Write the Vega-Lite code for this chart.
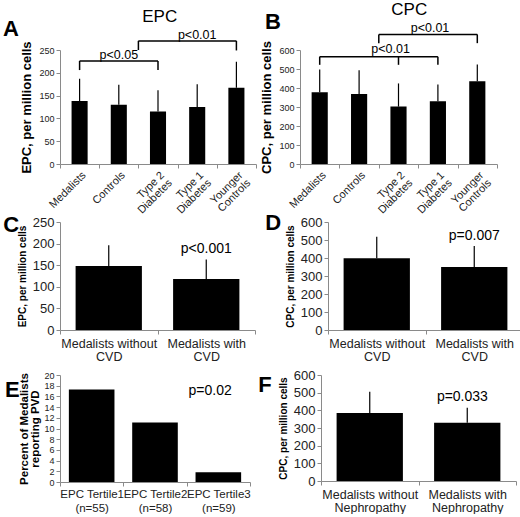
{
  "$schema": "https://vega.github.io/schema/vega-lite/v6.json",
  "padding": {"left": 2, "top": 0, "right": 0, "bottom": 0},
  "config": {
    "font": "Liberation Sans",
    "view": {"stroke": null},
    "axis": {
      "domainColor": "#8a8a8a",
      "tickColor": "#8a8a8a",
      "labelColor": "#222222",
      "titleColor": "#000000",
      "grid": false,
      "tickSize": 4
    },
    "title": {"color": "#000000"}
  },
  "datasets": {
    "epc_groups": [
      {"group": "Medalists", "mean": 138, "upper": 187},
      {"group": "Controls", "mean": 130, "upper": 174},
      {"group": "Type 2 Diabetes", "mean": 115, "upper": 162},
      {"group": "Type 1 Diabetes", "mean": 125, "upper": 175},
      {"group": "Younger Controls", "mean": 167, "upper": 224}
    ],
    "cpc_groups": [
      {"group": "Medalists", "mean": 377, "upper": 497},
      {"group": "Controls", "mean": 368, "upper": 494},
      {"group": "Type 2 Diabetes", "mean": 302, "upper": 424},
      {"group": "Type 1 Diabetes", "mean": 330, "upper": 419},
      {"group": "Younger Controls", "mean": 435, "upper": 524}
    ],
    "epc_cvd": [
      {"group": "Medalists without CVD", "mean": 148, "upper": 196},
      {"group": "Medalists with CVD", "mean": 118, "upper": 163}
    ],
    "cpc_cvd": [
      {"group": "Medalists without CVD", "mean": 398, "upper": 518},
      {"group": "Medalists with CVD", "mean": 350, "upper": 466}
    ],
    "pvd_tertiles": [
      {"group": "EPC Tertile1 (n=55)", "percent": 17.3},
      {"group": "EPC Tertile2 (n=58)", "percent": 11.1},
      {"group": "EPC Tertile3 (n=59)", "percent": 1.8}
    ],
    "cpc_nephropathy": [
      {"group": "Medalists without Nephropathy", "mean": 385, "upper": 505},
      {"group": "Medalists with Nephropathy", "mean": 330, "upper": 415}
    ],
    "brackets": [
      {"panel": "A", "start": "center", "from": "Medalists", "to": "Type 2 Diabetes", "y": 226, "y2": 226},
      {"panel": "A", "start": "center", "from": "Medalists", "to": "Medalists", "y": 206, "y2": 226},
      {"panel": "A", "start": "center", "from": "Type 2 Diabetes", "to": "Type 2 Diabetes", "y": 206, "y2": 226},
      {"panel": "A", "start": "center", "from": "Younger Controls", "to": "Younger Controls", "y": 249, "y2": 270},
      {"panel": "A", "start": "boundary", "from": "Type 2 Diabetes", "to": "Younger Controls", "y": 270, "y2": 270},
      {"panel": "A", "start": "tick", "from": "Type 2 Diabetes", "to": "Type 2 Diabetes", "y": 250, "y2": 270},
      {"panel": "B", "start": "center", "from": "Medalists", "to": "Type 1 Diabetes", "y": 565, "y2": 565},
      {"panel": "B", "start": "center", "from": "Medalists", "to": "Medalists", "y": 522, "y2": 565},
      {"panel": "B", "start": "center", "from": "Type 2 Diabetes", "to": "Type 2 Diabetes", "y": 522, "y2": 565},
      {"panel": "B", "start": "center", "from": "Type 1 Diabetes", "to": "Type 1 Diabetes", "y": 522, "y2": 565},
      {"panel": "B", "start": "center", "from": "Younger Controls", "to": "Younger Controls", "y": 636, "y2": 682},
      {"panel": "B", "start": "boundary", "from": "Type 2 Diabetes", "to": "Younger Controls", "y": 682, "y2": 682},
      {"panel": "B", "start": "tick", "from": "Type 2 Diabetes", "to": "Type 2 Diabetes", "y": 636, "y2": 682}
    ],
    "p_labels": [
      {"panel": "A", "at": "Controls", "y": 230, "text": "p<0.05"},
      {"panel": "A", "at": "Type 1 Diabetes", "y": 274, "text": "p<0.01"},
      {"panel": "B", "at": "Type 2 Diabetes", "y": 582, "text": "p<0.01"},
      {"panel": "B", "at": "Type 1 Diabetes", "y": 696, "text": "p<0.01"},
      {"panel": "C", "at": "Medalists with CVD", "y": 178, "text": "p<0.001"},
      {"panel": "D", "at": "Medalists with CVD", "y": 500, "text": "p=0.007"},
      {"panel": "E", "at": "EPC Tertile3 (n=59)", "y": 16.3, "text": "p=0.02"},
      {"panel": "F", "at": "Medalists with Nephropathy", "y": 455, "text": "p=0.033"}
    ]
  },
  "vconcat": [
    {
      "hconcat": [
        {
          "title": {"text": "EPC", "fontSize": 17, "fontWeight": "normal", "anchor": "middle", "dx": 30, "offset": -8},
          "vconcat": [
            {
              "width": 196,
              "height": 114,
              "title": {"text": "A", "anchor": "start", "frame": "bounds", "fontSize": 22, "fontWeight": "bold", "dx": -18, "dy": 12, "offset": 0},
              "layer": [
                {
                  "data": {"name": "epc_groups"},
                  "mark": {"type": "bar", "width": {"band": 0.41}, "color": "black"},
                  "encoding": {
                    "x": {"field": "group", "type": "nominal", "sort": null,
                      "scale": {"paddingInner": 0, "paddingOuter": 0},
                      "axis": {"title": null, "labelAngle": -45, "labelFontSize": 11, "labelLineHeight": 11, "tickBand": "extent", "labelPadding": 1,
                        "labelExpr": "indexof(datum.label, ' ') < 0 ? datum.label : [slice(datum.label, 0, lastindexof(datum.label, ' ')), slice(datum.label, lastindexof(datum.label, ' ') + 1)]"}},
                    "y": {"field": "mean", "type": "quantitative", "scale": {"domain": [0, 250], "nice": false},
                      "axis": {"title": "EPC, per million cells", "titleFontSize": 13, "titleFontWeight": "bold", "labelFontSize": 9, "values": [0, 50, 100, 150, 200, 250], "titlePadding": 5}}
                  }
                },
                {
                  "data": {"name": "epc_groups"},
                  "mark": {"type": "rule", "color": "black", "strokeWidth": 1.2},
                  "encoding": {
                    "x": {"field": "group", "type": "nominal", "sort": null, "bandPosition": 0.5},
                    "y": {"field": "mean", "type": "quantitative", "scale": {"domain": [0, 250], "nice": false},
                      "axis": {"title": "EPC, per million cells", "titleFontSize": 13, "titleFontWeight": "bold", "labelFontSize": 9, "values": [0, 50, 100, 150, 200, 250], "titlePadding": 5}},
                    "y2": {"field": "upper"}
                  }
                },
                {
                  "data": {"name": "brackets"},
                  "transform": [{"filter": "datum.panel == 'A' && datum.start == 'center'"}],
                  "mark": {"type": "rule", "color": "black", "strokeWidth": 1.5},
                  "encoding": {
                    "x": {"field": "from", "type": "nominal", "sort": null, "bandPosition": 0.5},
                    "x2": {"field": "to", "bandPosition": 0.5},
                    "y": {"field": "y", "type": "quantitative", "scale": {"domain": [0, 250], "nice": false},
                      "axis": {"title": "EPC, per million cells", "titleFontSize": 13, "titleFontWeight": "bold", "labelFontSize": 9, "values": [0, 50, 100, 150, 200, 250], "titlePadding": 5}},
                    "y2": {"field": "y2"}
                  }
                },
                {
                  "data": {"name": "brackets"},
                  "transform": [{"filter": "datum.panel == 'A' && datum.start == 'boundary'"}],
                  "mark": {"type": "rule", "color": "black", "strokeWidth": 1.5},
                  "encoding": {
                    "x": {"field": "from", "type": "nominal", "sort": null, "bandPosition": 0},
                    "x2": {"field": "to", "bandPosition": 0.5},
                    "y": {"field": "y", "type": "quantitative", "scale": {"domain": [0, 250], "nice": false},
                      "axis": {"title": "EPC, per million cells", "titleFontSize": 13, "titleFontWeight": "bold", "labelFontSize": 9, "values": [0, 50, 100, 150, 200, 250], "titlePadding": 5}},
                    "y2": {"field": "y2"}
                  }
                },
                {
                  "data": {"name": "brackets"},
                  "transform": [{"filter": "datum.panel == 'A' && datum.start == 'tick'"}],
                  "mark": {"type": "rule", "color": "black", "strokeWidth": 1.5},
                  "encoding": {
                    "x": {"field": "from", "type": "nominal", "sort": null, "bandPosition": 0},
                    "y": {"field": "y", "type": "quantitative", "scale": {"domain": [0, 250], "nice": false},
                      "axis": {"title": "EPC, per million cells", "titleFontSize": 13, "titleFontWeight": "bold", "labelFontSize": 9, "values": [0, 50, 100, 150, 200, 250], "titlePadding": 5}},
                    "y2": {"field": "y2"}
                  }
                },
                {
                  "data": {"name": "p_labels"},
                  "transform": [{"filter": "datum.panel == 'A'"}],
                  "mark": {"type": "text", "baseline": "alphabetic", "fontSize": 12.5, "color": "black"},
                  "encoding": {
                    "x": {"field": "at", "type": "nominal", "sort": null, "bandPosition": 0.5},
                    "y": {"field": "y", "type": "quantitative", "scale": {"domain": [0, 250], "nice": false},
                      "axis": {"title": "EPC, per million cells", "titleFontSize": 13, "titleFontWeight": "bold", "labelFontSize": 9, "values": [0, 50, 100, 150, 200, 250], "titlePadding": 5}},
                    "text": {"field": "text"}
                  }
                }
              ]
            }
          ]
        },
        {
          "title": {"text": "CPC", "fontSize": 17, "fontWeight": "normal", "anchor": "middle", "dx": 30, "offset": -8},
          "vconcat": [
            {
              "width": 197,
              "height": 114,
              "title": {"text": "B", "anchor": "start", "frame": "bounds", "fontSize": 22, "fontWeight": "bold", "dx": 4, "dy": 12, "offset": 0},
              "layer": [
                {
                  "data": {"name": "cpc_groups"},
                  "mark": {"type": "bar", "width": {"band": 0.41}, "color": "black"},
                  "encoding": {
                    "x": {"field": "group", "type": "nominal", "sort": null,
                      "scale": {"paddingInner": 0, "paddingOuter": 0},
                      "axis": {"title": null, "labelAngle": -45, "labelFontSize": 11, "labelLineHeight": 11, "tickBand": "extent", "labelPadding": 1,
                        "labelExpr": "indexof(datum.label, ' ') < 0 ? datum.label : [slice(datum.label, 0, lastindexof(datum.label, ' ')), slice(datum.label, lastindexof(datum.label, ' ') + 1)]"}},
                    "y": {"field": "mean", "type": "quantitative", "scale": {"domain": [0, 600], "nice": false},
                      "axis": {"title": "CPC, per million cells", "titleFontSize": 13, "titleFontWeight": "bold", "labelFontSize": 9, "values": [0, 100, 200, 300, 400, 500, 600], "titlePadding": 5}}
                  }
                },
                {
                  "data": {"name": "cpc_groups"},
                  "mark": {"type": "rule", "color": "black", "strokeWidth": 1.2},
                  "encoding": {
                    "x": {"field": "group", "type": "nominal", "sort": null, "bandPosition": 0.5},
                    "y": {"field": "mean", "type": "quantitative", "scale": {"domain": [0, 600], "nice": false},
                      "axis": {"title": "CPC, per million cells", "titleFontSize": 13, "titleFontWeight": "bold", "labelFontSize": 9, "values": [0, 100, 200, 300, 400, 500, 600], "titlePadding": 5}},
                    "y2": {"field": "upper"}
                  }
                },
                {
                  "data": {"name": "brackets"},
                  "transform": [{"filter": "datum.panel == 'B' && datum.start == 'center'"}],
                  "mark": {"type": "rule", "color": "black", "strokeWidth": 1.5},
                  "encoding": {
                    "x": {"field": "from", "type": "nominal", "sort": null, "bandPosition": 0.5},
                    "x2": {"field": "to", "bandPosition": 0.5},
                    "y": {"field": "y", "type": "quantitative", "scale": {"domain": [0, 600], "nice": false},
                      "axis": {"title": "CPC, per million cells", "titleFontSize": 13, "titleFontWeight": "bold", "labelFontSize": 9, "values": [0, 100, 200, 300, 400, 500, 600], "titlePadding": 5}},
                    "y2": {"field": "y2"}
                  }
                },
                {
                  "data": {"name": "brackets"},
                  "transform": [{"filter": "datum.panel == 'B' && datum.start == 'boundary'"}],
                  "mark": {"type": "rule", "color": "black", "strokeWidth": 1.5},
                  "encoding": {
                    "x": {"field": "from", "type": "nominal", "sort": null, "bandPosition": 0},
                    "x2": {"field": "to", "bandPosition": 0.5},
                    "y": {"field": "y", "type": "quantitative", "scale": {"domain": [0, 600], "nice": false},
                      "axis": {"title": "CPC, per million cells", "titleFontSize": 13, "titleFontWeight": "bold", "labelFontSize": 9, "values": [0, 100, 200, 300, 400, 500, 600], "titlePadding": 5}},
                    "y2": {"field": "y2"}
                  }
                },
                {
                  "data": {"name": "brackets"},
                  "transform": [{"filter": "datum.panel == 'B' && datum.start == 'tick'"}],
                  "mark": {"type": "rule", "color": "black", "strokeWidth": 1.5},
                  "encoding": {
                    "x": {"field": "from", "type": "nominal", "sort": null, "bandPosition": 0},
                    "y": {"field": "y", "type": "quantitative", "scale": {"domain": [0, 600], "nice": false},
                      "axis": {"title": "CPC, per million cells", "titleFontSize": 13, "titleFontWeight": "bold", "labelFontSize": 9, "values": [0, 100, 200, 300, 400, 500, 600], "titlePadding": 5}},
                    "y2": {"field": "y2"}
                  }
                },
                {
                  "data": {"name": "p_labels"},
                  "transform": [{"filter": "datum.panel == 'B'"}],
                  "mark": {"type": "text", "baseline": "alphabetic", "fontSize": 12.5, "color": "black"},
                  "encoding": {
                    "x": {"field": "at", "type": "nominal", "sort": null, "bandPosition": 0.3},
                    "y": {"field": "y", "type": "quantitative", "scale": {"domain": [0, 600], "nice": false},
                      "axis": {"title": "CPC, per million cells", "titleFontSize": 13, "titleFontWeight": "bold", "labelFontSize": 9, "values": [0, 100, 200, 300, 400, 500, 600], "titlePadding": 5}},
                    "text": {"field": "text"}
                  }
                }
              ]
            }
          ]
        }
      ],
      "spacing": 3
    },
    {
      "vconcat": [
        {
          "hconcat": [
            {
              "width": 195,
              "height": 108,
              "title": {"text": "C", "anchor": "start", "frame": "bounds", "fontSize": 22, "fontWeight": "bold", "dx": -14, "dy": 21, "offset": 0},
              "layer": [
                {
                  "data": {"name": "epc_cvd"},
                  "mark": {"type": "bar", "width": {"band": 0.68}, "color": "black"},
                  "encoding": {
                    "x": {"field": "group", "type": "nominal", "sort": null,
                      "scale": {"paddingInner": 0, "paddingOuter": 0},
                      "axis": {"title": null, "labelAngle": 0, "labelFontSize": 12.5, "labelLineHeight": 13, "tickBand": "extent", "labelPadding": 3,
                        "labelExpr": "indexof(datum.label, ' ') < 0 ? datum.label : [slice(datum.label, 0, lastindexof(datum.label, ' ')), slice(datum.label, lastindexof(datum.label, ' ') + 1)]"}},
                    "y": {"field": "mean", "type": "quantitative", "scale": {"domain": [0, 250], "nice": false},
                      "axis": {"title": "EPC, per million cells", "titleFontSize": 10, "titleFontWeight": "bold", "labelFontSize": 13, "values": [0, 50, 100, 150, 200, 250], "titlePadding": 5}}
                  }
                },
                {
                  "data": {"name": "epc_cvd"},
                  "mark": {"type": "rule", "color": "black", "strokeWidth": 1.2},
                  "encoding": {
                    "x": {"field": "group", "type": "nominal", "sort": null, "bandPosition": 0.5},
                    "y": {"field": "mean", "type": "quantitative", "scale": {"domain": [0, 250], "nice": false},
                      "axis": {"title": "EPC, per million cells", "titleFontSize": 10, "titleFontWeight": "bold", "labelFontSize": 13, "values": [0, 50, 100, 150, 200, 250], "titlePadding": 5}},
                    "y2": {"field": "upper"}
                  }
                },
                {
                  "data": {"name": "p_labels"},
                  "transform": [{"filter": "datum.panel == 'C'"}],
                  "mark": {"type": "text", "baseline": "alphabetic", "fontSize": 14, "color": "black"},
                  "encoding": {
                    "x": {"field": "at", "type": "nominal", "sort": null, "bandPosition": 0.5},
                    "y": {"field": "y", "type": "quantitative", "scale": {"domain": [0, 250], "nice": false},
                      "axis": {"title": "EPC, per million cells", "titleFontSize": 10, "titleFontWeight": "bold", "labelFontSize": 13, "values": [0, 50, 100, 150, 200, 250], "titlePadding": 5}},
                    "text": {"field": "text"}
                  }
                }
              ]
            },
            {
              "width": 195,
              "height": 108,
              "title": {"text": "D", "anchor": "start", "frame": "bounds", "fontSize": 22, "fontWeight": "bold", "dx": -20, "dy": 19, "offset": 0},
              "layer": [
                {
                  "data": {"name": "cpc_cvd"},
                  "mark": {"type": "bar", "width": {"band": 0.68}, "color": "black"},
                  "encoding": {
                    "x": {"field": "group", "type": "nominal", "sort": null,
                      "scale": {"paddingInner": 0, "paddingOuter": 0},
                      "axis": {"title": null, "labelAngle": 0, "labelFontSize": 12.5, "labelLineHeight": 13, "tickBand": "extent", "labelPadding": 3,
                        "labelExpr": "indexof(datum.label, ' ') < 0 ? datum.label : [slice(datum.label, 0, lastindexof(datum.label, ' ')), slice(datum.label, lastindexof(datum.label, ' ') + 1)]"}},
                    "y": {"field": "mean", "type": "quantitative", "scale": {"domain": [0, 600], "nice": false},
                      "axis": {"title": "CPC, per million cells", "titleFontSize": 10, "titleFontWeight": "bold", "labelFontSize": 13, "values": [0, 100, 200, 300, 400, 500, 600], "titlePadding": 5}}
                  }
                },
                {
                  "data": {"name": "cpc_cvd"},
                  "mark": {"type": "rule", "color": "black", "strokeWidth": 1.2},
                  "encoding": {
                    "x": {"field": "group", "type": "nominal", "sort": null, "bandPosition": 0.5},
                    "y": {"field": "mean", "type": "quantitative", "scale": {"domain": [0, 600], "nice": false},
                      "axis": {"title": "CPC, per million cells", "titleFontSize": 10, "titleFontWeight": "bold", "labelFontSize": 13, "values": [0, 100, 200, 300, 400, 500, 600], "titlePadding": 5}},
                    "y2": {"field": "upper"}
                  }
                },
                {
                  "data": {"name": "p_labels"},
                  "transform": [{"filter": "datum.panel == 'D'"}],
                  "mark": {"type": "text", "baseline": "alphabetic", "fontSize": 14, "color": "black"},
                  "encoding": {
                    "x": {"field": "at", "type": "nominal", "sort": null, "bandPosition": 0.5},
                    "y": {"field": "y", "type": "quantitative", "scale": {"domain": [0, 600], "nice": false},
                      "axis": {"title": "CPC, per million cells", "titleFontSize": 10, "titleFontWeight": "bold", "labelFontSize": 13, "values": [0, 100, 200, 300, 400, 500, 600], "titlePadding": 5}},
                    "text": {"field": "text"}
                  }
                }
              ]
            }
          ],
          "spacing": 9
        },
        {
          "hconcat": [
            {
              "width": 190,
              "height": 107,
              "title": {"text": "E", "anchor": "start", "frame": "bounds", "fontSize": 22, "fontWeight": "bold", "dx": -14, "dy": 31, "offset": 0},
              "layer": [
                {
                  "data": {"name": "pvd_tertiles"},
                  "mark": {"type": "bar", "width": {"band": 0.72}, "color": "black"},
                  "encoding": {
                    "x": {"field": "group", "type": "nominal", "sort": null,
                      "scale": {"paddingInner": 0, "paddingOuter": 0},
                      "axis": {"title": null, "labelAngle": 0, "labelFontSize": 11.5, "labelLineHeight": 14, "tickBand": "extent", "labelPadding": 2,
                        "labelExpr": "indexof(datum.label, ' ') < 0 ? datum.label : [slice(datum.label, 0, lastindexof(datum.label, ' ')), slice(datum.label, lastindexof(datum.label, ' ') + 1)]"}},
                    "y": {"field": "percent", "type": "quantitative", "scale": {"domain": [0, 20], "nice": false},
                      "axis": {"title": ["Percent of Medalists", "reporting PVD"], "titleFontSize": 11.5, "titleLineHeight": 11, "titleFontWeight": "bold", "titleBaseline": "top", "labelFontSize": 9, "values": [0, 2, 4, 6, 8, 10, 12, 14, 16, 18, 20], "titlePadding": 14}}
                  }
                },
                {
                  "data": {"name": "p_labels"},
                  "transform": [{"filter": "datum.panel == 'E'"}],
                  "mark": {"type": "text", "baseline": "alphabetic", "fontSize": 14, "color": "black"},
                  "encoding": {
                    "x": {"field": "at", "type": "nominal", "sort": null, "bandPosition": 0.37},
                    "y": {"field": "y", "type": "quantitative", "scale": {"domain": [0, 20], "nice": false},
                      "axis": {"title": ["Percent of Medalists", "reporting PVD"], "titleFontSize": 11.5, "titleLineHeight": 11, "titleFontWeight": "bold", "titleBaseline": "top", "labelFontSize": 9, "values": [0, 2, 4, 6, 8, 10, 12, 14, 16, 18, 20], "titlePadding": 14}},
                    "text": {"field": "text"}
                  }
                }
              ]
            },
            {
              "width": 195,
              "height": 106,
              "title": {"text": "F", "anchor": "start", "frame": "bounds", "fontSize": 22, "fontWeight": "bold", "dx": -20, "dy": 28, "offset": 0},
              "layer": [
                {
                  "data": {"name": "cpc_nephropathy"},
                  "mark": {"type": "bar", "width": {"band": 0.68}, "color": "black"},
                  "encoding": {
                    "x": {"field": "group", "type": "nominal", "sort": null,
                      "scale": {"paddingInner": 0, "paddingOuter": 0},
                      "axis": {"title": null, "labelAngle": 0, "labelFontSize": 12.5, "labelLineHeight": 13, "tickBand": "extent", "labelPadding": 3,
                        "labelExpr": "indexof(datum.label, ' ') < 0 ? datum.label : [slice(datum.label, 0, lastindexof(datum.label, ' ')), slice(datum.label, lastindexof(datum.label, ' ') + 1)]"}},
                    "y": {"field": "mean", "type": "quantitative", "scale": {"domain": [0, 600], "nice": false},
                      "axis": {"title": "CPC, per million cells", "titleFontSize": 10, "titleFontWeight": "bold", "labelFontSize": 13, "values": [0, 100, 200, 300, 400, 500, 600], "titlePadding": 5}}
                  }
                },
                {
                  "data": {"name": "cpc_nephropathy"},
                  "mark": {"type": "rule", "color": "black", "strokeWidth": 1.2},
                  "encoding": {
                    "x": {"field": "group", "type": "nominal", "sort": null, "bandPosition": 0.5},
                    "y": {"field": "mean", "type": "quantitative", "scale": {"domain": [0, 600], "nice": false},
                      "axis": {"title": "CPC, per million cells", "titleFontSize": 10, "titleFontWeight": "bold", "labelFontSize": 13, "values": [0, 100, 200, 300, 400, 500, 600], "titlePadding": 5}},
                    "y2": {"field": "upper"}
                  }
                },
                {
                  "data": {"name": "p_labels"},
                  "transform": [{"filter": "datum.panel == 'F'"}],
                  "mark": {"type": "text", "baseline": "alphabetic", "fontSize": 14, "color": "black"},
                  "encoding": {
                    "x": {"field": "at", "type": "nominal", "sort": null, "bandPosition": 0.45},
                    "y": {"field": "y", "type": "quantitative", "scale": {"domain": [0, 600], "nice": false},
                      "axis": {"title": "CPC, per million cells", "titleFontSize": 10, "titleFontWeight": "bold", "labelFontSize": 13, "values": [0, 100, 200, 300, 400, 500, 600], "titlePadding": 5}},
                    "text": {"field": "text"}
                  }
                }
              ]
            }
          ],
          "spacing": 7
        }
      ],
      "spacing": 6
    }
  ],
  "spacing": -4
}
